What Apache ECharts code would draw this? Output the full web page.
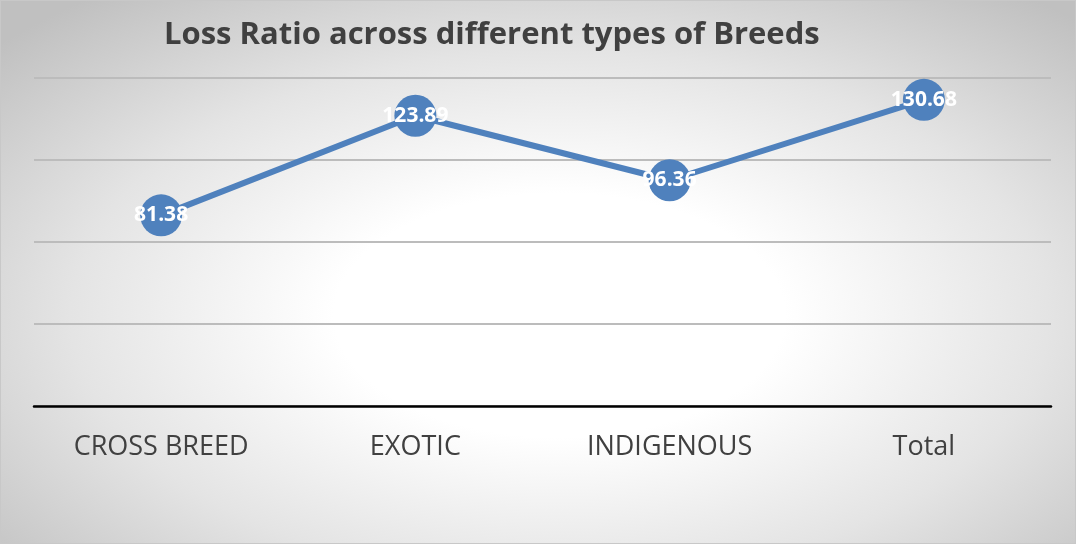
<!DOCTYPE html>
<html>
<head>
<meta charset="utf-8">
<script src="https://cdn.jsdelivr.net/npm/echarts@6/dist/echarts.min.js"></script>
<style>
  html, body { margin: 0; padding: 0; }
  #chart {
    width: 1074px; height: 542px;
    border: 1px solid #c8c8c8;
    background: radial-gradient(ellipse 70% 75% at 52% 58%, #ffffff 0%, #ffffff 30%, #e4e4e4 65%, #c0c0c0 100%);
  }
</style>
</head>
<body>
<div id="chart"></div>
<script>
const titleText = 'Loss Ratio across different types of Breeds';
const categories = ['CROSS BREED', 'EXOTIC', 'INDIGENOUS', 'Total'];
const lossRatio = [81.38, 123.89, 96.36, 130.68];
const yMin = 0, yMax = 140, yStep = 35;

const chart = echarts.init(document.getElementById('chart'));
chart.setOption({
  backgroundColor: 'transparent',
  animation: false,
  title: {
    text: titleText,
    left: 158, top: 14,
    textStyle: { fontFamily: 'Open Sans', fontWeight: 'bold', fontSize: 31, color: '#404040' }
  },
  grid: { left: 33, right: 24, top: 77, bottom: 137 },
  xAxis: {
    type: 'category',
    data: categories,
    axisLine: { lineStyle: { color: '#000000', width: 2.5 } },
    axisTick: { show: false },
    axisLabel: { fontFamily: 'Open Sans', fontSize: 27, color: '#404040', margin: 28 },
    splitLine: { show: false }
  },
  yAxis: {
    type: 'value',
    min: yMin, max: yMax, interval: yStep,
    axisLine: { show: false },
    axisTick: { show: false },
    axisLabel: { show: false },
    splitLine: { lineStyle: { color: '#bcbcbc', width: 2 } }
  },
  series: [{
    type: 'line',
    data: lossRatio,
    symbol: 'circle',
    symbolSize: 42,
    lineStyle: { color: '#4f81bd', width: 6 },
    itemStyle: { color: '#4f81bd' },
    label: {
      show: true,
      position: 'inside',
      fontFamily: 'Open Sans',
      fontWeight: 'bold',
      fontSize: 21,
      color: '#ffffff',
      formatter: p => p.value.toFixed(2)
    },
    z: 3
  }]
});
</script>
</body>
</html>
